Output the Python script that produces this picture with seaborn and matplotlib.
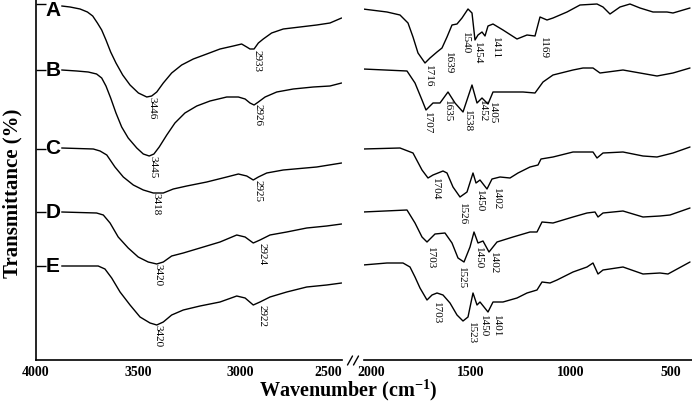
import numpy as np
import pandas as pd
import matplotlib
matplotlib.use("Agg")
import matplotlib.pyplot as plt
import matplotlib.transforms as mtransforms
from matplotlib.lines import Line2D
import seaborn as sns

sns.set_style("white")
plt.rcParams['font.family'] = ['Liberation Serif', 'DejaVu Serif']
plt.rcParams['text.color'] = 'black'
plt.rcParams['axes.labelcolor'] = 'black'
plt.rcParams['xtick.color'] = 'black'
plt.rcParams['ytick.color'] = 'black'
plt.rcParams['mathtext.fontset'] = 'custom'
plt.rcParams['mathtext.rm'] = 'Liberation Serif'
plt.rcParams['mathtext.bf'] = 'Liberation Serif:bold'

# ---------------- data ----------------
samples = ["A", "B", "C", "D", "E"]
sample_ticks = [356, 290, 211, 148, 94]

# 4000-2500 cm-1 region
wn_hi_A = [3874, 3833, 3784, 3748, 3722, 3699, 3678, 3657, 3634, 3608, 3575, 3539, 3498, 3457, 3433, 3408, 3376, 3335, 3286, 3229,
           3163, 3098, 3033, 2992, 2967, 2951, 2931, 2910, 2886, 2845, 2788, 2706, 2624, 2559, 2502]
t_hi_A = [354, 353, 351, 348, 344, 337, 330, 320, 308, 297, 285, 275, 267, 263, 264, 268, 277, 287, 295, 301,
          306, 311, 314, 316, 313, 311, 311, 317, 321, 327, 331, 333, 335, 337, 342]
wn_hi_B = [3874, 3800, 3744, 3703, 3678, 3657, 3634, 3608, 3580, 3548, 3506, 3474, 3445, 3422, 3396, 3359, 3319, 3270, 3212, 3147,
           3065, 3008, 2975, 2951, 2931, 2910, 2877, 2820, 2739, 2641, 2559, 2502]
t_hi_B = [290, 289, 288, 286, 282, 274, 262, 247, 233, 222, 212, 206, 204, 206, 213, 225, 237, 247, 254, 259,
          263, 263, 261, 257, 255, 258, 263, 268, 271, 273, 274, 277]
wn_hi_C = [3874, 3719, 3686, 3653, 3613, 3572, 3523, 3474, 3425, 3376, 3327, 3261, 3163, 3065, 3008, 2967, 2935, 2910, 2869, 2788,
           2624, 2502]
t_hi_C = [212, 211, 209, 205, 193, 183, 175, 170, 167, 167, 171, 174, 178, 183, 186, 184, 180, 183, 187, 190,
          193, 197]
wn_hi_D = [3874, 3703, 3670, 3637, 3597, 3548, 3499, 3450, 3408, 3376, 3335, 3278, 3196, 3098, 3016, 2975, 2935, 2902, 2853, 2771,
           2673, 2575, 2502]
t_hi_D = [148, 147, 145, 137, 123, 112, 103, 98, 96, 98, 104, 107, 112, 118, 125, 123, 117, 120, 125, 128,
          132, 134, 136]
wn_hi_E = [3874, 3695, 3662, 3629, 3588, 3539, 3490, 3441, 3408, 3376, 3335, 3278, 3196, 3098, 3016, 2975, 2935, 2902, 2853, 2771,
           2673, 2575, 2502]
t_hi_E = [94, 94, 91, 82, 68, 55, 43, 37, 35, 38, 45, 50, 54, 58, 64, 62, 55, 58, 63, 68,
          73, 75, 77]

# 2000-400 cm-1 region
wn_lo_A = [2040, 1920, 1855, 1815, 1790, 1765, 1730, 1705, 1670, 1645, 1620, 1595, 1570, 1545, 1515, 1495, 1480, 1465, 1445, 1430,
           1415, 1390, 1340, 1270, 1220, 1180, 1155, 1120, 1090, 1055, 1020, 955, 870, 840, 805, 755, 705, 655, 590, 520,
           490, 405]
t_lo_A = [351, 348, 345, 337, 323, 307, 297, 302, 308, 312, 323, 335, 336, 342, 351, 347, 320, 325, 328, 324,
          334, 336, 330, 321, 325, 324, 343, 340, 342, 345, 348, 355, 356, 353, 346, 353, 356, 352, 348, 348,
          347, 352]
wn_lo_B = [2040, 1820, 1780, 1745, 1725, 1690, 1655, 1615, 1580, 1540, 1495, 1470, 1445, 1415, 1390, 1355, 1240, 1180, 1140, 1090,
           990, 940, 890, 855, 740, 655, 570, 490, 405]
t_lo_B = [291, 289, 277, 260, 250, 257, 257, 268, 257, 248, 275, 257, 262, 256, 268, 268, 268, 267, 278, 285,
          290, 292, 292, 287, 290, 287, 284, 287, 292]
wn_lo_C = [2040, 1855, 1790, 1745, 1715, 1690, 1640, 1620, 1590, 1555, 1520, 1490, 1475, 1455, 1420, 1395, 1355, 1305, 1265, 1205,
           1165, 1150, 1090, 990, 890, 870, 840, 740, 640, 570, 490, 405]
t_lo_C = [211, 212, 207, 190, 182, 185, 189, 187, 173, 163, 168, 187, 177, 180, 171, 181, 183, 182, 187, 193,
          195, 201, 203, 208, 208, 202, 207, 208, 204, 203, 207, 213]
wn_lo_D = [2040, 1820, 1780, 1745, 1720, 1680, 1630, 1595, 1565, 1535, 1505, 1485, 1465, 1440, 1410, 1370, 1290, 1205, 1170, 1145,
           1090, 990, 920, 880, 865, 840, 740, 640, 555, 505, 405]
t_lo_D = [148, 150, 137, 123, 118, 126, 127, 117, 102, 98, 113, 128, 117, 119, 108, 118, 123, 128, 128, 138,
          137, 143, 147, 148, 143, 147, 149, 143, 144, 145, 152]
wn_lo_E = [2040, 1920, 1840, 1805, 1780, 1755, 1720, 1695, 1670, 1640, 1605, 1570, 1540, 1515, 1490, 1470, 1455, 1435, 1415, 1390,
           1340, 1270, 1220, 1170, 1145, 1105, 1070, 990, 920, 890, 865, 840, 740, 640, 555, 515, 405]
t_lo_E = [95, 97, 97, 93, 83, 72, 60, 65, 67, 65, 57, 45, 39, 43, 67, 55, 58, 53, 48, 58,
          58, 62, 67, 70, 78, 77, 80, 88, 93, 97, 86, 90, 93, 86, 87, 86, 98]

# peak annotations: (text, wavenumber position, transmittance position)
peaks_hi = [("3446", 3432, 263), ("2933", 2917, 310),
            ("3445", 3426, 204), ("2926", 2912, 256),
            ("3418", 3412, 167), ("2925", 2912, 180),
            ("3420", 3402, 96), ("2924", 2892, 117),
            ("3420", 3402, 35), ("2922", 2892, 55)]
peaks_lo = [("1716", 1715, 295), ("1639", 1615, 308), ("1540", 1530, 328),
            ("1454", 1470, 318), ("1411", 1380, 323), ("1169", 1140, 323),
            ("1707", 1720, 248), ("1635", 1620, 260), ("1538", 1520, 250),
            ("1452", 1445, 260), ("1405", 1395, 258),
            ("1704", 1680, 182), ("1526", 1545, 157), ("1450", 1460, 170), ("1402", 1375, 172),
            ("1703", 1705, 113), ("1525", 1550, 93), ("1450", 1462, 113), ("1402", 1390, 108),
            ("1703", 1675, 58), ("1523", 1500, 38), ("1450", 1440, 45), ("1401", 1372, 45)]

xticks_hi = [4000, 3500, 3000, 2500]
xticks_lo = [2000, 1500, 1000, 500]

# ---------------- build tables ----------------
hi = {"A": (wn_hi_A, t_hi_A), "B": (wn_hi_B, t_hi_B), "C": (wn_hi_C, t_hi_C),
      "D": (wn_hi_D, t_hi_D), "E": (wn_hi_E, t_hi_E)}
lo = {"A": (wn_lo_A, t_lo_A), "B": (wn_lo_B, t_lo_B), "C": (wn_lo_C, t_lo_C),
      "D": (wn_lo_D, t_lo_D), "E": (wn_lo_E, t_lo_E)}

def to_df(d):
    rows = []
    for s, (w, t) in d.items():
        for a, b in zip(w, t):
            rows.append((s, a, b))
    return pd.DataFrame(rows, columns=["sample", "wavenumber", "T"])

df_hi = to_df(hi)
df_lo = to_df(lo)

# ---------------- figure ----------------
W, H = 692, 403
fig = plt.figure(figsize=(W / 100, H / 100), dpi=100)
bot = 43 / H
hgt = 360 / H
axL = fig.add_axes([36 / W, bot, (342 - 36) / W, hgt])
axR = fig.add_axes([364 / W, bot, (692 - 364) / W, hgt])

for ax, df in ((axL, df_hi), (axR, df_lo)):
    sns.lineplot(data=df, x="wavenumber", y="T", units="sample", estimator=None,
                 sort=False, color="black", lw=1.0, ax=ax, legend=False)
    ax.set_ylim(0, 360)
    ax.set_xlabel("")
    ax.set_ylabel("")
    ax.set_facecolor("white")
    for sp in ax.spines.values():
        sp.set_color("black")
        sp.set_linewidth(1.2)
    ax.spines["top"].set_visible(False)
    ax.spines["right"].set_visible(False)

axL.set_xlim(4000, 2500)
axR.set_xlim(2035, 395)
axR.spines["left"].set_visible(False)

axL.set_xticks(xticks_hi)
axR.set_xticks(xticks_lo)
for ax in (axL, axR):
    ax.tick_params(axis="x", length=0, pad=4)
    for lab in ax.get_xticklabels():
        lab.set_fontweight("bold")
        lab.set_fontsize(10)
axL.get_xticklabels()[-1].set_horizontalalignment("right")

axL.set_yticks(sample_ticks)
axL.set_yticklabels([])
axL.tick_params(axis="y", direction="in", length=7, width=1.0, color="black", left=True)
axR.set_yticks([])

trans = mtransforms.blended_transform_factory(axL.transAxes, axL.transData)
for s, yv in zip(samples, sample_ticks):
    ya = yv - 7 if s == "A" else yv
    axL.text(0.03, ya, s, transform=trans, ha="left", va="center", color="black",
             fontsize=15, fontweight="bold", family=["Liberation Sans", "DejaVu Sans"])

for txt, x, y in peaks_hi:
    axL.text(x, y, txt, rotation=270, ha="center", va="top", fontsize=8, color="black")
for txt, x, y in peaks_lo:
    axR.text(x, y, txt, rotation=270, ha="center", va="top", fontsize=8, color="black")

# axis break marks "//"
for dx in (-3, 3):
    xc = 353 + dx
    fig.add_artist(Line2D([(xc - 2.5) / W, (xc + 2.5) / W], [1 - 365 / H, 1 - 356 / H],
                          transform=fig.transFigure, color="black", lw=1.0))

fig.text(348 / W, 1 - 403 / H, r"Wavenumber (cm$^{\mathbf{-1}}$)", ha="center", va="bottom",
         fontsize=14.5, fontweight="bold", color="black")
fig.text(12 / W, 1 - 193 / H, "Transmittance (%)", rotation=90, ha="center", va="center",
         fontsize=15, fontweight="bold", color="black")

fig.savefig("out.png", dpi=100, facecolor="white")
